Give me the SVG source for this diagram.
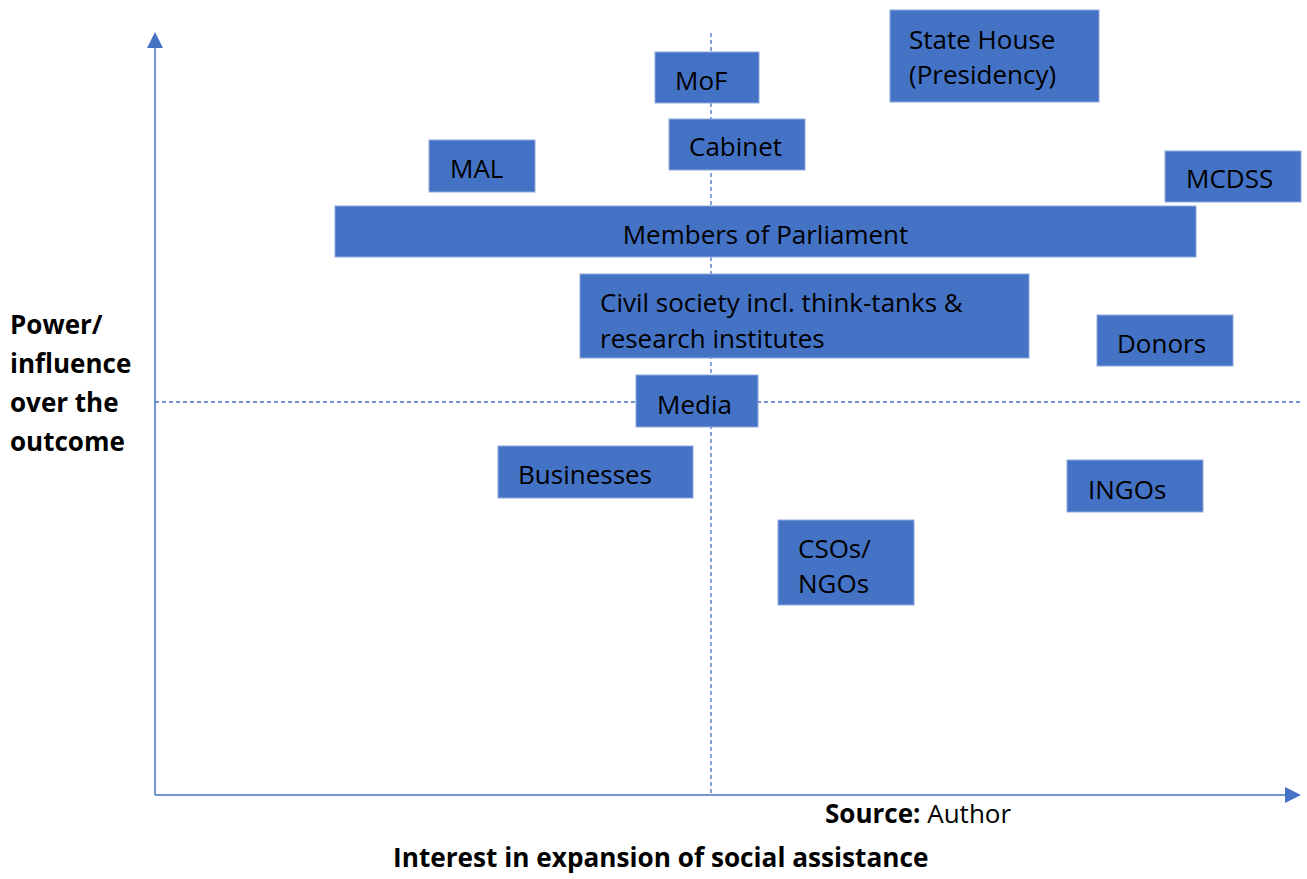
<svg xmlns="http://www.w3.org/2000/svg" width="1307" height="879" viewBox="0 0 1307 879">
<style>
.box{fill:#4472C4;stroke:#8FAADC;stroke-width:1}
.t{font-family:"Open Sans","Noto Sans",sans-serif;font-size:26px;fill:#000}
.b{font-family:"Open Sans","Noto Sans",sans-serif;font-weight:bold;fill:#000}
.axis{stroke:#4472C4;stroke-width:1.5;fill:none}
.dash{stroke:#4472C4;stroke-width:1.3;stroke-dasharray:4 3;fill:none}
</style>
<rect width="1307" height="879" fill="#fff"/>
<g id="connectors">
<line class="dash" x1="711" y1="33" x2="711" y2="795"/>
<line class="dash" x1="155" y1="402" x2="1300" y2="402"/>
<path d="M155,795 L155,34" class="axis"/>
<path d="M155,795 L1290,795" class="axis"/>
<polygon points="155,32 147,48 163,48" fill="#4472C4"/>
<polygon points="1301,795 1285,787 1285,803" fill="#4472C4"/>
</g>
<g id="state-house"><rect class="box" x="890" y="10" width="209" height="92"/><text class="t" x="909" y="49">State House</text><text class="t" x="909" y="84">(Presidency)</text></g>
<g id="mof"><rect class="box" x="655" y="52" width="104" height="51"/><text class="t" x="675" y="90">MoF</text></g>
<g id="cabinet"><rect class="box" x="669" y="119" width="136" height="51"/><text class="t" x="689" y="156">Cabinet</text></g>
<g id="mal"><rect class="box" x="429" y="140" width="106" height="52"/><text class="t" x="450" y="178">MAL</text></g>
<g id="mcdss"><rect class="box" x="1165" y="151" width="136" height="51"/><text class="t" x="1186" y="188">MCDSS</text></g>
<g id="mps"><rect class="box" x="335" y="206" width="861" height="51"/><text class="t" x="765.5" y="244" text-anchor="middle">Members of Parliament</text></g>
<g id="civil-society"><rect class="box" x="580" y="274" width="449" height="84"/><text class="t" x="600" y="312">Civil society incl. think-tanks &amp;</text><text class="t" x="600" y="348">research institutes</text></g>
<g id="donors"><rect class="box" x="1097" y="315" width="136" height="51"/><text class="t" x="1117" y="353">Donors</text></g>
<g id="media"><rect class="box" x="636" y="375" width="122" height="52"/><text class="t" x="657" y="414">Media</text></g>
<g id="businesses"><rect class="box" x="498" y="446" width="195" height="52"/><text class="t" x="518" y="484">Businesses</text></g>
<g id="ingos"><rect class="box" x="1067" y="460" width="136" height="52"/><text class="t" x="1088" y="499">INGOs</text></g>
<g id="csos"><rect class="box" x="778" y="520" width="136" height="85"/><text class="t" x="798" y="558">CSOs/</text><text class="t" x="798" y="593">NGOs</text></g>
<g id="labels">
<text class="b" font-size="26"><tspan x="10" y="334">Power/</tspan><tspan x="10" y="373">influence</tspan><tspan x="10" y="412">over the</tspan><tspan x="10" y="451">outcome</tspan></text>
<text class="t" x="825" y="823" font-size="22.3"><tspan font-weight="bold">Source:</tspan> Author</text>
<text class="b" x="393" y="867" font-size="26.2">Interest in expansion of social assistance</text>
</g>
</svg>
